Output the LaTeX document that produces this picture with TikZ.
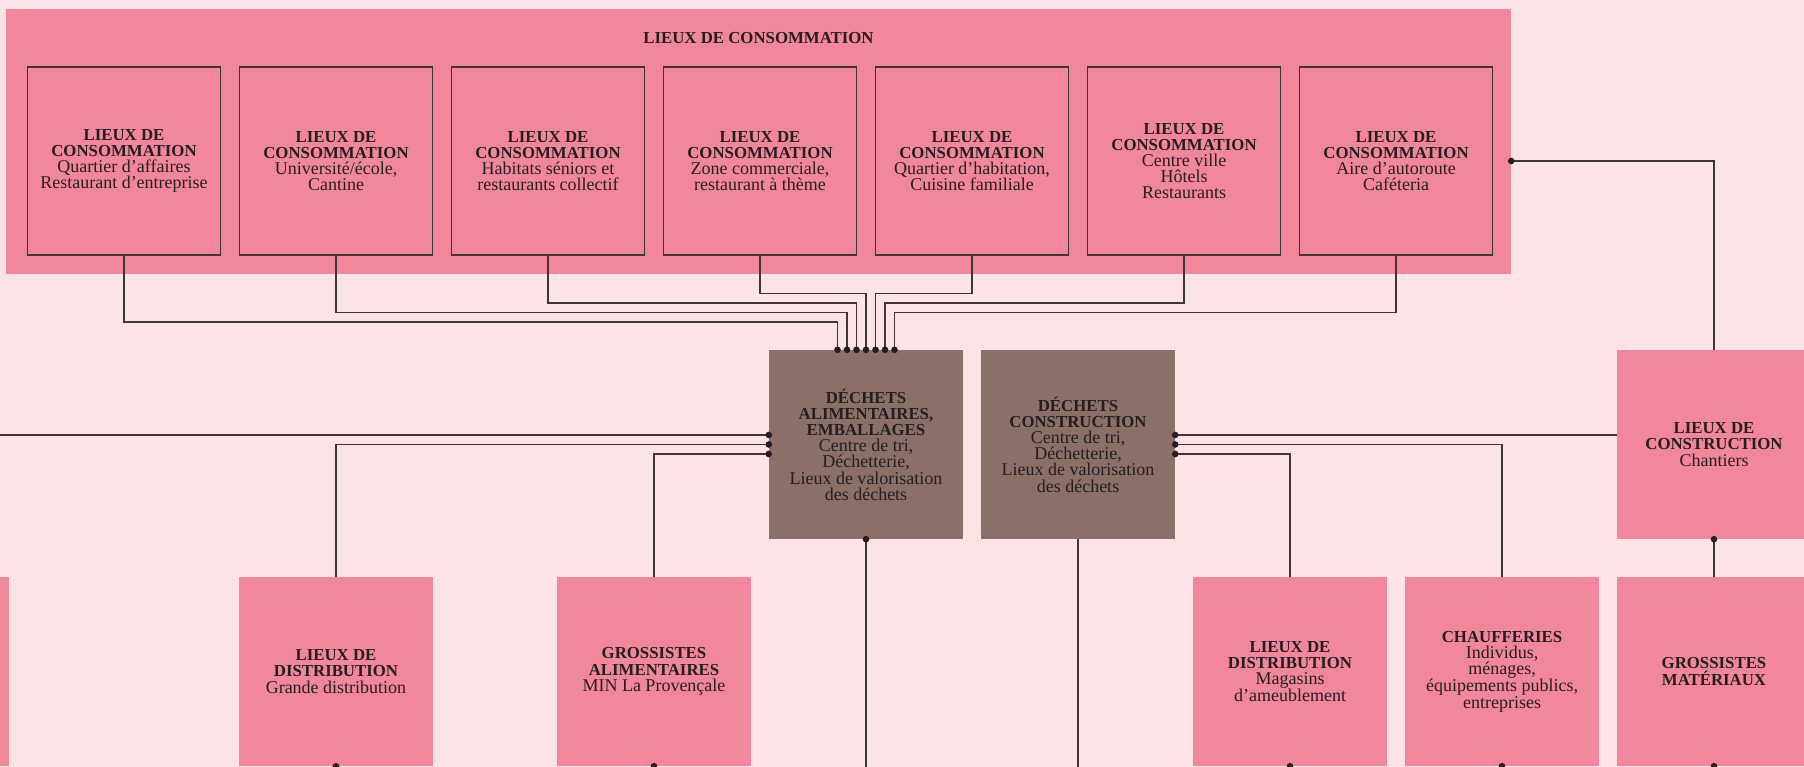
\documentclass[tikz,border=0pt]{standalone}
\usepackage{fontspec}
\setmainfont{Liberation Serif}
\usetikzlibrary{calc}

\definecolor{bgpink}{HTML}{FCE3E6}
\definecolor{boxpink}{HTML}{F2879B}
\definecolor{wastebrown}{HTML}{8B7068}
\definecolor{inkdark}{HTML}{231F20}
\definecolor{wiregray}{HTML}{3D3536}

% bold heading lines are set a little smaller than the body lines
\newcommand{\hd}[1]{{\fontsize{16.8pt}{16.2pt}\selectfont\bfseries #1}}

\tikzset{
  lbl/.style={font={\fontsize{18pt}{16.2pt}\selectfont}, text=inkdark, align=center, inner sep=0pt},
  siteframe/.style={lbl, draw=wiregray, line width=1.3pt, fill=boxpink,
    minimum width=193pt, minimum height=188pt},
  sitebox/.style={lbl, fill=boxpink, minimum width=194pt, minimum height=189pt},
  wastebox/.style={lbl, fill=wastebrown, minimum width=194pt, minimum height=189pt},
  wire/.style={draw=wiregray, line width=1.5pt},
  joint/.style={fill=inkdark}
}
\newcommand{\jdot}[1]{\fill[joint] #1 circle (3.3pt);}

\begin{document}
\begin{tikzpicture}[x=1pt, y=-1pt]
\useasboundingbox (0,0) rectangle (1804,767);
\clip (0,0) rectangle (1804,767);
\fill[bgpink] (0,0) rectangle (1804,767);

% consumption band
\node[fill=boxpink, minimum width=1505pt, minimum height=265pt, inner sep=0pt] (band) at (758.5,141.5) {};
\node[lbl] (bandtitle) at (758.5,38) {\hd{LIEUX DE CONSOMMATION}};

\node[siteframe] (t1) at (124,161)  {\hd{LIEUX DE}\\\hd{CONSOMMATION}\\Quartier d’affaires\\Restaurant d’entreprise};
\node[siteframe] (t2) at (336,161)  {\hd{LIEUX DE}\\\hd{CONSOMMATION}\\Université/école,\\Cantine};
\node[siteframe] (t3) at (548,161)  {\hd{LIEUX DE}\\\hd{CONSOMMATION}\\Habitats séniors et\\restaurants collectif};
\node[siteframe] (t4) at (760,161)  {\hd{LIEUX DE}\\\hd{CONSOMMATION}\\Zone commerciale,\\restaurant à thème};
\node[siteframe] (t5) at (972,161)  {\hd{LIEUX DE}\\\hd{CONSOMMATION}\\Quartier d’habitation,\\Cuisine familiale};
\node[siteframe] (t6) at (1184,161) {\hd{LIEUX DE}\\\hd{CONSOMMATION}\\Centre ville\\Hôtels\\Restaurants};
\node[siteframe] (t7) at (1396,161) {\hd{LIEUX DE}\\\hd{CONSOMMATION}\\Aire d’autoroute\\Caféteria};

% waste hubs
\node[wastebox] (dA) at (866,444.5) {\hd{DÉCHETS}\\\hd{ALIMENTAIRES,}\\\hd{EMBALLAGES}\\Centre de tri,\\Déchetterie,\\Lieux de valorisation\\des déchets};
\node[wastebox] (dC) at (1078,444.5) {\hd{DÉCHETS}\\\hd{CONSTRUCTION}\\Centre de tri,\\Déchetterie,\\Lieux de valorisation\\des déchets};

% construction site
\node[sitebox] (constr) at (1714,444.5) {\hd{LIEUX DE}\\\hd{CONSTRUCTION}\\Chantiers};

% lower row
\node[sitebox] (b0)     at (-88,671.5) {};
\node[sitebox] (bDist)  at (336,671.5) {\hd{LIEUX DE}\\\hd{DISTRIBUTION}\\Grande distribution};
\node[sitebox] (bGros)  at (654,671.5) {\hd{GROSSISTES}\\\hd{ALIMENTAIRES}\\MIN La Provençale};
\node[sitebox] (bMag)   at (1290,671.5) {\hd{LIEUX DE}\\\hd{DISTRIBUTION}\\Magasins\\d’ameublement};
\node[sitebox] (bChauf) at (1502,671.5) {\hd{CHAUFFERIES}\\Individus,\\ménages,\\équipements publics,\\entreprises};
\node[sitebox] (bMat)   at (1714,671.5) {\hd{GROSSISTES}\\\hd{MATÉRIAUX}};

% free ends at the picture edges
\coordinate (leftIn) at (0,435);
\coordinate (downA) at (866,780);
\coordinate (downC) at (1078,780);

% consumption sites into the food-waste hub
\draw[wire] (t1.south) -- ++(0,66.5) -| ($(dA.north)+(-28.5,0)$);
\draw[wire] (t2.south) -- ++(0,57)   -| ($(dA.north)+(-19,0)$);
\draw[wire] (t3.south) -- ++(0,47.5) -| ($(dA.north)+(-9.5,0)$);
\draw[wire] (t4.south) -- ++(0,38)   -| (dA.north);
\draw[wire] (t5.south) -- ++(0,38)   -| ($(dA.north)+(9.5,0)$);
\draw[wire] (t6.south) -- ++(0,47.5) -| ($(dA.north)+(19,0)$);
\draw[wire] (t7.south) -- ++(0,57)   -| ($(dA.north)+(28.5,0)$);
\foreach \dx in {-28.5,-19,-9.5,0,9.5,19,28.5}{
  \jdot{($(dA.north)+(\dx,0)$)}
}

% food-waste hub, left side
\draw[wire] (leftIn) -- ($(dA.west)+(0,-9.5)$);
\draw[wire] (bDist.north) |- (dA.west);
\draw[wire] (bGros.north) |- ($(dA.west)+(0,9.5)$);
\foreach \dy in {-9.5,0,9.5}{
  \jdot{($(dA.west)+(0,\dy)$)}
}
\draw[wire] (dA.south) -- (downA);
\jdot{(dA.south)}

% construction-waste hub, right side
\draw[wire] ($(dC.east)+(0,-9.5)$) -- ($(constr.west)+(0,-9.5)$);
\draw[wire] (bChauf.north) |- (dC.east);
\draw[wire] (bMag.north) |- ($(dC.east)+(0,9.5)$);
\foreach \dy in {-9.5,0,9.5}{
  \jdot{($(dC.east)+(0,\dy)$)}
}
\draw[wire] (dC.south) -- (downC);

% consumption band to construction site
\draw[wire] ($(band.east)+(0,19.5)$) -| (constr.north);
\jdot{($(band.east)+(0,19.5)$)}
\draw[wire] (constr.south) -- (bMat.north);
\jdot{(constr.south)}

% outlets at the lower edge
\foreach \n in {bDist,bGros,bMag,bChauf,bMat}{
  \jdot{(\n.south)}
}
\end{tikzpicture}
\end{document}
